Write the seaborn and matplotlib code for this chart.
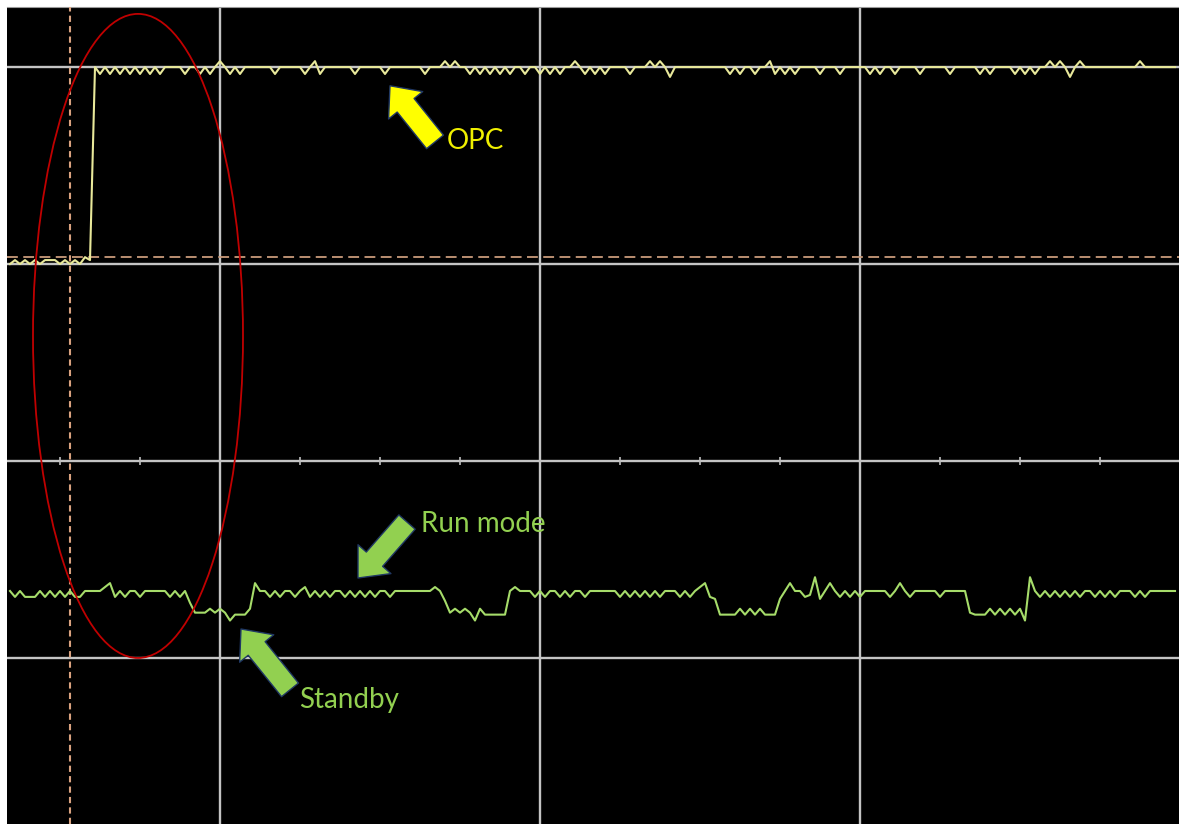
import numpy as np
import pandas as pd
import matplotlib
matplotlib.use("Agg")
import matplotlib.pyplot as plt
import seaborn as sns
from matplotlib.patches import Ellipse, FancyArrowPatch, ArrowStyle

# scope capture, time in samples, y in screen divisions
t = np.arange(-42, 192)

opc = [
    3.0, 3.02, 3.0, 3.02, 3.0, 3.02, 3.0, 3.02, 3.02, 3.02,
    3.0, 3.02, 3.0, 3.02, 3.0, 3.035, 3.02, 4.0, 3.965, 4.0,
    3.965, 4.0, 3.965, 4.0, 3.965, 4.0, 3.965, 4.0, 3.965, 4.0,
    3.965, 4.0, 4.0, 4.0, 4.0, 3.965, 4.0, 4.0, 3.965, 4.0,
    3.965, 4.0, 4.03, 4.0, 3.965, 4.0, 3.965, 4.0, 4.0, 4.0,
    4.0, 4.0, 4.0, 3.965, 4.0, 4.0, 4.0, 4.0, 4.0, 3.965,
    4.0, 4.03, 3.965, 4.0, 4.0, 4.0, 4.0, 4.0, 4.0, 3.965,
    4.0, 4.0, 4.0, 4.0, 4.0, 3.965, 4.0, 4.0, 4.0, 4.0,
    4.0, 4.0, 4.0, 3.965, 4.0, 4.0, 4.0, 4.03, 4.0, 4.03,
    4.0, 4.0, 3.965, 4.0, 3.965, 4.0, 3.965, 4.0, 3.965, 4.0,
    3.965, 4.0, 4.0, 3.965, 4.0, 4.0, 3.965, 4.0, 3.965, 4.0,
    3.965, 4.0, 4.0, 4.03, 4.0, 3.965, 4.0, 3.965, 4.0, 3.965,
    4.0, 4.0, 4.0, 4.0, 3.965, 4.0, 4.0, 4.0, 4.03, 4.0,
    4.03, 4.0, 3.95, 4.0, 4.0, 4.0, 4.0, 4.0, 4.0, 4.0,
    4.0, 4.0, 4.0, 4.0, 3.965, 4.0, 3.965, 4.0, 4.0, 3.965,
    4.0, 4.0, 4.03, 3.965, 4.0, 3.965, 4.0, 3.965, 4.0, 4.0,
    4.0, 4.0, 3.965, 4.0, 4.0, 4.0, 3.965, 4.0, 4.0, 4.0,
    4.0, 4.0, 3.965, 4.0, 3.965, 4.0, 4.0, 3.965, 4.0, 4.0,
    4.0, 4.0, 3.965, 4.0, 4.0, 4.0, 4.0, 4.0, 3.965, 4.0,
    4.0, 4.0, 4.0, 4.0, 3.965, 4.0, 3.965, 4.0, 4.0, 4.0,
    4.0, 3.965, 4.0, 3.965, 4.0, 3.965, 4.0, 4.0, 4.03, 4.0,
    4.03, 4.0, 3.95, 4.0, 4.03, 4.0, 4.0, 4.0, 4.0, 4.0,
    4.0, 4.0, 4.0, 4.0, 4.0, 4.0, 4.03, 4.0, 4.0, 4.0,
    4.0, 4.0, 4.0, 4.0,
]

run_mode = [
    1.34, 1.31, 1.34, 1.31, 1.31, 1.31, 1.34, 1.31, 1.34, 1.31,
    1.34, 1.31, 1.34, 1.31, 1.31, 1.34, 1.34, 1.34, 1.34, 1.36,
    1.38, 1.31, 1.34, 1.31, 1.34, 1.34, 1.31, 1.34, 1.34, 1.34,
    1.34, 1.34, 1.31, 1.34, 1.31, 1.34, 1.28, 1.23, 1.23, 1.23,
    1.25, 1.23, 1.25, 1.23, 1.19, 1.22, 1.22, 1.22, 1.25, 1.38,
    1.34, 1.34, 1.31, 1.34, 1.31, 1.34, 1.34, 1.31, 1.34, 1.36,
    1.31, 1.34, 1.31, 1.34, 1.31, 1.34, 1.34, 1.31, 1.34, 1.31,
    1.34, 1.31, 1.34, 1.31, 1.34, 1.34, 1.31, 1.34, 1.34, 1.34,
    1.34, 1.34, 1.34, 1.34, 1.34, 1.36, 1.34, 1.29, 1.23, 1.25,
    1.23, 1.25, 1.23, 1.19, 1.25, 1.22, 1.22, 1.22, 1.22, 1.22,
    1.34, 1.36, 1.34, 1.34, 1.34, 1.31, 1.34, 1.31, 1.34, 1.34,
    1.31, 1.34, 1.31, 1.34, 1.34, 1.31, 1.34, 1.34, 1.34, 1.34,
    1.34, 1.34, 1.31, 1.34, 1.31, 1.34, 1.31, 1.34, 1.31, 1.34,
    1.31, 1.34, 1.34, 1.34, 1.31, 1.34, 1.31, 1.34, 1.36, 1.38,
    1.31, 1.30, 1.22, 1.22, 1.22, 1.22, 1.25, 1.22, 1.25, 1.22,
    1.25, 1.22, 1.22, 1.22, 1.30, 1.34, 1.38, 1.34, 1.34, 1.31,
    1.32, 1.41, 1.30, 1.34, 1.38, 1.34, 1.31, 1.34, 1.31, 1.34,
    1.31, 1.34, 1.34, 1.34, 1.34, 1.34, 1.31, 1.34, 1.38, 1.34,
    1.31, 1.34, 1.34, 1.34, 1.34, 1.34, 1.31, 1.34, 1.34, 1.34,
    1.34, 1.34, 1.23, 1.22, 1.22, 1.22, 1.25, 1.22, 1.25, 1.22,
    1.25, 1.22, 1.25, 1.19, 1.41, 1.34, 1.31, 1.34, 1.31, 1.34,
    1.31, 1.34, 1.31, 1.34, 1.31, 1.34, 1.34, 1.31, 1.34, 1.31,
    1.34, 1.31, 1.34, 1.34, 1.34, 1.31, 1.34, 1.31, 1.34, 1.34,
    1.34, 1.34, 1.34, 1.34,
]

grid_x = [0, 64, 128]
grid_y = [1, 2, 3, 4]
minor_ticks = [-32, -16, 16, 32, 48, 80, 96, 112, 144, 160, 176]
cursor_t = -30
cursor_level = 3.036

df = pd.DataFrame({"t": t, "OPC": opc, "Run mode": run_mode})

fig = plt.figure(figsize=(11.79, 8.24), dpi=100, facecolor="white")
ax = fig.add_axes([7 / 1179, 0, 1172 / 1179, 817 / 824])
ax.set_facecolor("black")
ax.set_xlim(-42.6, 191.8)
ax.set_ylim(0.157, 4.305)

# graticule
ax.set_xticks(grid_x)
ax.set_yticks(grid_y)
ax.tick_params(length=0, labelbottom=False, labelleft=False)
ax.grid(True, color="#c4c4c4", lw=1.7)
ax.set_axisbelow(True)
ax.plot(minor_ticks, [2] * len(minor_ticks), ls="none", marker="|",
        ms=6, mew=1.2, color="#bdbdbd")
for side in ["right", "bottom", "left"]:
    ax.spines[side].set_visible(False)
ax.spines["top"].set_color("#9a9a9a")

# cursors
ax.axvline(cursor_t, color="#d9a27f", lw=1.5, ls=(0, (3, 2)), zorder=3)
ax.axhline(cursor_level, color="#c99a7a", lw=1.3, ls=(0, (6, 3)), zorder=3)

sns.lineplot(data=df, x="t", y="OPC", color="#e8e89a", lw=1.5,
             estimator=None, ax=ax, zorder=4)
sns.lineplot(data=df, x="t", y="Run mode", color="#a6dc6a", lw=1.5,
             estimator=None, ax=ax, zorder=4)
ax.set_xlabel("")
ax.set_ylabel("")

ax.add_patch(Ellipse((-16.4, 2.635), width=42, height=3.27, fill=False,
                     edgecolor="#c00000", lw=1.3, zorder=5))

style = ArrowStyle.Simple(head_length=0.6, head_width=1.05, tail_width=0.52)
arrows = [
    ((43, 3.62), (34, 3.905), "#ffff00"),
    ((37.4, 1.69), (27.6, 1.406), "#92d050"),
    ((14, 0.838), (4.2, 1.147), "#92d050"),
]
for a, b, c in arrows:
    ax.add_patch(FancyArrowPatch(a, b, arrowstyle=style, mutation_scale=30,
                                 shrinkA=0, shrinkB=0, facecolor=c,
                                 edgecolor="#203864", lw=1, zorder=6))

font = ["Lato", "DejaVu Sans"]
ax.text(45.4, 3.624, "OPC", color="#f0f000", fontsize=20, family=font,
        ha="left", va="center")
ax.text(40.2, 1.68, "Run mode", color="#92d050", fontsize=20, family=font,
        ha="left", va="center")
ax.text(15.8, 0.787, "Standby", color="#92d050", fontsize=20, family=font,
        ha="left", va="center")

fig.savefig("out.png", dpi=100, facecolor="white")
